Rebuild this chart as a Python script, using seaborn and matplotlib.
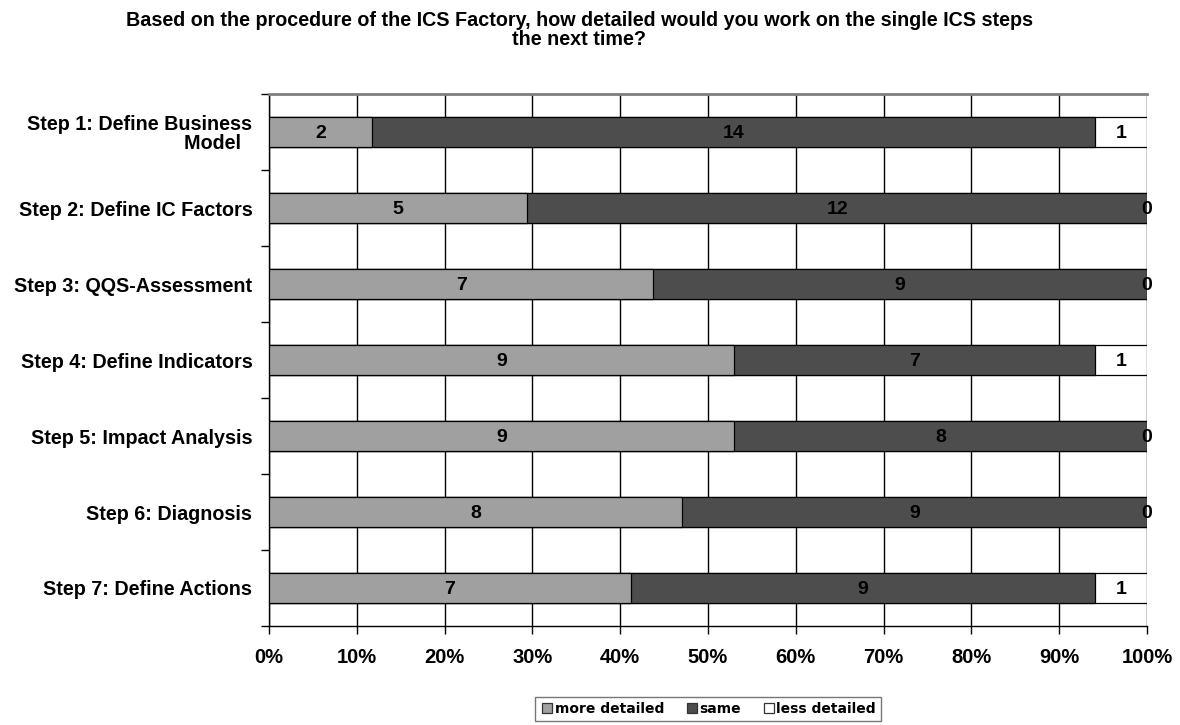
import numpy as np
import pandas as pd
import matplotlib
matplotlib.use("Agg")
import matplotlib.pyplot as plt
from matplotlib.lines import Line2D
import seaborn as sns

steps = [
    "Step 1: Define Business\nModel  ",
    "Step 2: Define IC Factors",
    "Step 3: QQS-Assessment",
    "Step 4: Define Indicators",
    "Step 5: Impact Analysis",
    "Step 6: Diagnosis",
    "Step 7: Define Actions",
]
more_detailed = [2, 5, 7, 9, 9, 8, 7]
same = [14, 12, 9, 7, 8, 9, 9]
less_detailed = [1, 0, 0, 1, 0, 0, 1]
series_names = ["more detailed", "same", "less detailed"]
series_colors = ["#A0A0A0", "#4D4D4D", "#FFFFFF"]
x_ticks = [0, 10, 20, 30, 40, 50, 60, 70, 80, 90, 100]
title = ("Based on the procedure of the ICS Factory, how detailed would you work on the single ICS steps\n"
         "the next time?")

sns.set_theme(style="white")
plt.rcParams["font.family"] = ["Liberation Sans", "DejaVu Sans"]
plt.rcParams["font.weight"] = "bold"
for key in ["text.color", "axes.labelcolor", "xtick.color", "ytick.color"]:
    plt.rcParams[key] = "black"

counts = np.array([more_detailed, same, less_detailed], dtype=float)
totals = counts.sum(axis=0)
pct = counts / totals * 100
cum = np.cumsum(pct, axis=0)

df = pd.DataFrame({
    "step": steps,
    "c1": cum[0],
    "c2": cum[1],
    "c3": cum[2],
})

fig = plt.figure(figsize=(11.8, 7.25), dpi=100)
ax = fig.add_axes([0.228, 0.1366, 0.744, 0.7334])

# stacked bars: draw cumulative totals from the outermost segment inwards
for col, color in zip(["c3", "c2", "c1"], series_colors[::-1]):
    sns.barplot(data=df, x=col, y="step", orient="h", color=color,
                edgecolor="black", linewidth=0.9, width=0.4, saturation=1,
                ax=ax, zorder=3)

# segment value labels
for i in range(len(steps)):
    start = 0.0
    for s in range(3):
        w = pct[s, i]
        center = start + w / 2
        ax.text(center, i + 0.02, f"{int(counts[s, i])}", ha="center", va="center",
                fontsize=14, fontweight="bold", color="black", zorder=5)
        start += w

ax.set_xlim(0, 100)
ax.set_ylim(len(steps) - 0.5, -0.5)
ax.set_xticks(x_ticks)
ax.set_xticklabels([f"{t}%" for t in x_ticks], fontsize=14.5, fontweight="bold")
ax.set_yticks(np.arange(-0.5, len(steps), 1.0), minor=False)
ax.set_yticklabels([])
ax.set_yticks(np.arange(len(steps)), minor=True)
ax.set_yticklabels(steps, minor=True, fontsize=14.2, fontweight="bold",
                   multialignment="right", linespacing=1.0)
ax.tick_params(axis="y", which="minor", length=0, pad=12)
ax.tick_params(axis="y", which="major", length=6, width=1, color="black",
               direction="out", left=True)
ax.tick_params(axis="x", length=6, width=1, color="black", direction="out",
               bottom=True, pad=10)
ax.set_xlabel("")
ax.set_ylabel("")

ax.grid(axis="x", color="black", linewidth=1, zorder=0)
ax.set_axisbelow(True)
for side in ["left", "bottom"]:
    ax.spines[side].set_color("black")
    ax.spines[side].set_linewidth(1)
ax.spines["top"].set_color("#7F7F7F")
ax.spines["top"].set_linewidth(2)
ax.spines["right"].set_visible(False)

fig.text(0.491, 0.985, title, ha="center", va="top", fontsize=14.2,
         fontweight="bold", linespacing=1.0)

handles = [Line2D([0], [0], marker="s", linestyle="none", markersize=7.5,
                  markerfacecolor=c, markeredgecolor="#333333", markeredgewidth=0.9)
           for c in series_colors]
leg = fig.legend(handles, series_names, loc="center", ncol=3,
                 bbox_to_anchor=(0.6, 0.022), frameon=True, fancybox=False,
                 edgecolor="#555555", prop={"family": "DejaVu Sans", "weight": "bold", "size": 10},
                 handletextpad=0.05, columnspacing=1.5, borderpad=0.35, handlelength=1.0)
leg.get_frame().set_linewidth(1)

fig.savefig("out.png", dpi=100, facecolor="white")
